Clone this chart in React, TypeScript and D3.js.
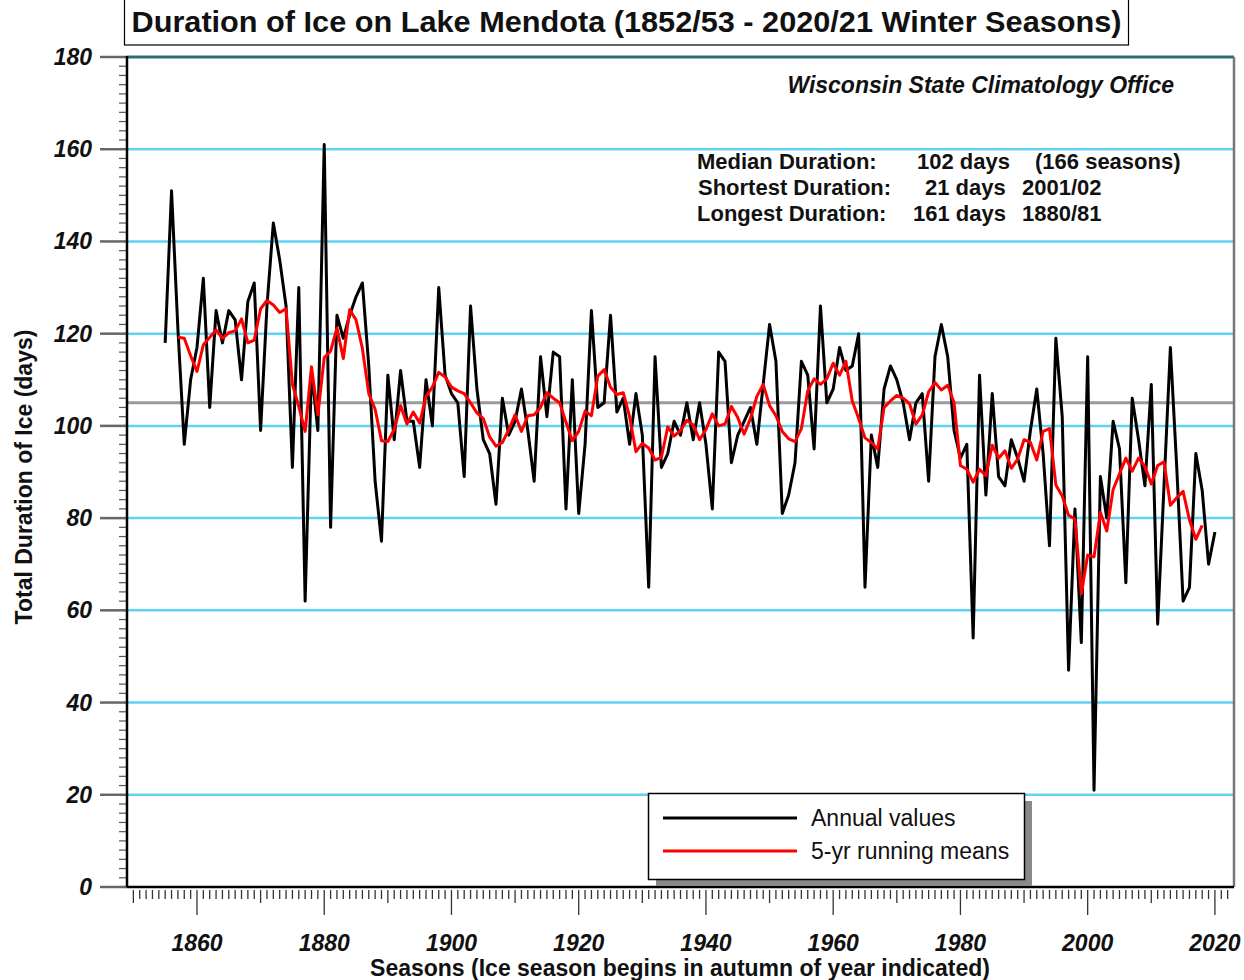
import React from 'react'
import * as d3 from 'd3'

// annual ice duration (days), seasons 1855/56 .. 2020/21
const firstSeason = 1855
const iceDays = [
  118, 151, 121, 96, 110, 117, 132, 104, 125, 118,
  125, 123, 110, 127, 131, 99, 126, 144, 136, 126,
  91, 130, 62, 112, 99, 161, 78, 124, 119, 124,
  128, 131, 113, 88, 75, 111, 97, 112, 101, 101,
  91, 110, 100, 130, 111, 107, 105, 89, 126, 108,
  97, 94, 83, 106, 98, 101, 108, 99, 88, 115,
  102, 116, 115, 82, 110, 81, 96, 125, 104, 105,
  124, 103, 106, 96, 107, 98, 65, 115, 91, 94,
  101, 98, 105, 97, 105, 96, 82, 116, 114, 92,
  98, 101, 104, 96, 109, 122, 114, 81, 85, 92,
  114, 111, 95, 126, 105, 108, 117, 112, 113, 120,
  65, 98, 91, 108, 113, 110, 105, 97, 105, 107,
  88, 115, 122, 115, 99, 93, 96, 54, 111, 85,
  107, 89, 87, 97, 93, 88, 99, 108, 94, 74,
  119, 102, 47, 82, 53, 115, 21, 89, 80, 101,
  95, 66, 106, 97, 87, 109, 57, 87, 117, 91,
  62, 65, 94, 86, 70, 77,
]

// 5-yr running means, centred, 1857 .. 2018
const firstMean = 1857
const runningMeans = [
  119.2, 119, 115.2, 111.8, 117.6, 119.2, 120.8, 119, 120.2, 120.6,
  123.2, 118, 118.6, 125.4, 127.2, 126.2, 124.6, 125.4, 109, 104.2,
  98.8, 112.8, 102.4, 114.8, 116.2, 121.2, 114.6, 125.2, 123, 116.8,
  107, 103.6, 96.8, 96.6, 99.2, 104.4, 100.4, 103, 100.6, 106.4,
  108.4, 111.6, 110.6, 108.4, 107.6, 107, 105, 102.8, 101.6, 97.6,
  95.6, 96.4, 99.2, 102.4, 98.8, 102.2, 102.4, 104, 107.2, 106,
  105, 100.8, 96.8, 98.8, 103.2, 102.2, 110.8, 112.2, 108.4, 106.8,
  107.2, 102, 94.4, 96.2, 95.2, 92.6, 93.2, 99.8, 97.8, 99,
  101.2, 100.2, 97, 99.2, 102.6, 100, 100.4, 104.2, 101.8, 98.2,
  101.6, 106.4, 109, 104.4, 102.2, 98.8, 97.2, 96.6, 99.4, 107.6,
  110.2, 109, 110.2, 113.6, 111, 114, 105.4, 101.6, 97.4, 96.4,
  95, 104, 105.4, 106.6, 106, 104.8, 100.4, 102.4, 107.4, 109.4,
  107.8, 108.8, 105, 91.4, 90.6, 87.8, 90.6, 89.2, 95.8, 93,
  94.6, 90.8, 92.8, 97, 96.4, 92.6, 98.8, 99.4, 87.2, 84.8,
  80.6, 79.8, 63.6, 72, 71.6, 81.2, 77.2, 86.2, 89.6, 93,
  90.2, 93, 91.2, 87.4, 91.4, 92.2, 82.8, 84.4, 85.8, 79.6,
  75.4, 78.4,
]

const referenceLine = 105
const yTicks = [0, 20, 40, 60, 80, 100, 120, 140, 160, 180]
const xTickLabels = [1860, 1880, 1900, 1920, 1940, 1960, 1980, 2000, 2020]

const titleText = 'Duration of Ice on Lake Mendota (1852/53 - 2020/21 Winter Seasons)'
const sourceText = 'Wisconsin State Climatology Office'
const statLabels = ['Median Duration:', 'Shortest Duration:', 'Longest Duration:']
const statValues = ['102 days', '21 days', '161 days']
const statNotes = ['(166 seasons)', '2001/02', '1880/81']
const legendLabels = ['Annual values', '5-yr running means']

const font = '"Liberation Sans", Arial, Helvetica, sans-serif'

export default function App() {
  const W = 1244, H = 980
  const left = 127, right = 1234, top = 57, bottom = 887

  const x = d3.scaleLinear().domain([1849, 2023]).range([left, right])
  const y = d3.scaleLinear().domain([0, 180]).range([bottom, top])

  const annual = iceDays.map((v, i) => [firstSeason + i, v] as [number, number])
  const means = runningMeans.map((v, i) => [firstMean + i, v] as [number, number])

  const line = d3.line<[number, number]>()
    .x(d => x(d[0]))
    .y(d => y(d[1]))

  const yMinor = d3.range(0, 181, 2)
  const xMinor = d3.range(1850, 2023)

  const statX = [697, 698, 697]
  const valueX = [917, 925, 913]
  const noteX = [1035, 1022, 1022]

  return (
    <svg width={W} height={H} style={{ position: 'absolute', left: 0, top: 0, background: '#fff' }}
      fontFamily={font}>
      <rect x={0} y={0} width={W} height={H} fill="#fff" />

      {/* title box */}
      <rect x={124.5} y={-2} width={1004} height={47} fill="#fff" stroke="#000" strokeWidth={1.2} />
      <text x={626.5} y={32} textAnchor="middle" fontSize={30} fontWeight="bold" fill="#111"
        textLength={990} lengthAdjust="spacingAndGlyphs">{titleText}</text>

      {/* grid */}
      {yTicks.filter(t => t > 0 && t < 180).map(t => (
        <line key={'g' + t} x1={left} x2={right} y1={y(t)} y2={y(t)} stroke="#5ED3F3" strokeWidth={2.5} />
      ))}
      <line x1={left} x2={right} y1={y(180)} y2={y(180)} stroke="#2F6C7A" strokeWidth={3} />
      <line x1={left} x2={right} y1={y(referenceLine)} y2={y(referenceLine)} stroke="#9A9A9A" strokeWidth={3} />
      <line x1={right} x2={right} y1={top} y2={bottom} stroke="#777" strokeWidth={2.5} />

      {/* y axis */}
      {yMinor.map(t => (
        <line key={'ym' + t} x1={t % 20 === 0 ? 100 : 119} x2={left} y1={y(t)} y2={y(t)}
          stroke={t % 20 === 0 ? '#666' : '#555'} strokeWidth={t % 20 === 0 ? 2.5 : 1.2} />
      ))}
      <line x1={left} x2={left} y1={top - 1} y2={bottom} stroke="#000" strokeWidth={2.5} />
      {yTicks.map(t => (
        <text key={'yl' + t} x={92} y={y(t)} dy="0.35em" textAnchor="end" fontSize={23}
          fontStyle="italic" fontWeight="bold" fill="#111">{t}</text>
      ))}
      <text transform={`translate(32,${(top + bottom) / 2 + 5}) rotate(-90)`} textAnchor="middle"
        fontSize={23} fontWeight="bold" fill="#111">Total Duration of Ice (days)</text>

      {/* x axis */}
      {xMinor.map(yr => (
        <line key={'xm' + yr} x1={x(yr)} x2={x(yr)} y1={890}
          y2={yr % 20 === 0 ? 915 : yr % 10 === 0 ? 903 : 899}
          stroke="#333" strokeWidth={1.3} />
      ))}
      <line x1={left} x2={right} y1={bottom} y2={bottom} stroke="#000" strokeWidth={2.5} />
      {xTickLabels.map(yr => (
        <text key={'xl' + yr} x={x(yr)} y={951} textAnchor="middle" fontSize={23}
          fontStyle="italic" fontWeight="bold" fill="#111">{yr}</text>
      ))}
      <text x={680} y={976} textAnchor="middle" fontSize={23} fontWeight="bold" fill="#111">
        Seasons (Ice season begins in autumn of year indicated)
      </text>

      {/* data */}
      <path d={line(annual) || ''} fill="none" stroke="#000" strokeWidth={3} strokeLinejoin="round" />
      <path d={line(means) || ''} fill="none" stroke="#FF0000" strokeWidth={3} strokeLinejoin="round" />

      {/* annotations */}
      <text x={1174} y={93} textAnchor="end" fontSize={23} fontStyle="italic" fontWeight="bold" fill="#111">
        {sourceText}
      </text>
      {statLabels.map((s, i) => (
        <g key={'st' + i} fontSize={22} fontWeight="bold" fill="#111">
          <text x={statX[i]} y={169 + i * 26}>{s}</text>
          <text x={valueX[i]} y={169 + i * 26}>{statValues[i]}</text>
          <text x={noteX[i]} y={169 + i * 26}>{statNotes[i]}</text>
        </g>
      ))}

      {/* legend */}
      <rect x={656} y={801} width={376} height={85} fill="#8a8a8a" />
      <rect x={648.5} y={793.5} width={376} height={86} fill="#fff" stroke="#000" strokeWidth={1.5} />
      <line x1={663} x2={797} y1={818} y2={818} stroke="#000" strokeWidth={3} />
      <line x1={663} x2={797} y1={851} y2={851} stroke="#FF0000" strokeWidth={3} />
      <text x={811} y={826} fontSize={23} fill="#111">{legendLabels[0]}</text>
      <text x={811} y={859} fontSize={23} fill="#111">{legendLabels[1]}</text>
    </svg>
  )
}
